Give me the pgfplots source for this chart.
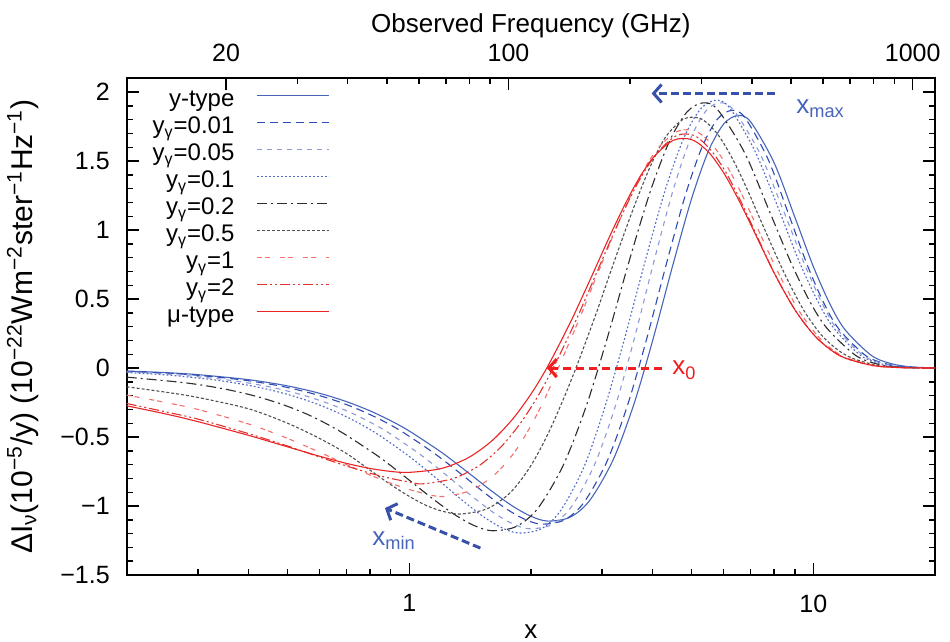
\documentclass[border=0pt]{standalone}
\usepackage{fontspec}
\setmainfont{Liberation Sans}
\usepackage{pgfplots}
\pgfplotsset{compat=1.18}
\usetikzlibrary{arrows.meta}
\definecolor{cY}{RGB}{70,100,185}
\definecolor{cA}{RGB}{45,75,180}
\definecolor{cB}{RGB}{140,155,215}
\definecolor{cC}{RGB}{80,105,200}
\definecolor{cD}{RGB}{45,45,45}
\definecolor{cE}{RGB}{80,80,80}
\definecolor{cF}{RGB}{245,110,110}
\definecolor{cG}{RGB}{225,50,50}
\definecolor{cM}{RGB}{235,35,35}
\definecolor{arrB}{RGB}{55,80,170}
\definecolor{txtB}{RGB}{70,100,185}
\definecolor{arrR}{RGB}{240,30,30}
\begin{document}
\begin{tikzpicture}
\begin{axis}[
  scale only axis, width=404.15pt, height=248.35pt,
  xmode=log, xmin=11.356, xmax=1135.6, ymin=0, ymax=1,
  axis x line*=top, axis y line=none,
  xtick={20,100,1000}, xticklabels={20,100,1000},
  minor xtick={30,40,50,60,70,80,90,200,300,400,500,600,700,800,900},
  xtick align=inside, major tick length=6pt, minor tick length=3pt,
  every tick/.style={black, line width=0.7pt},
  axis line style={line width=0.9pt},
  xticklabel style={inner sep=0pt, anchor=south, yshift=8.2pt, font=\fontsize{12.5}{14}\selectfont},
  xlabel={Observed Frequency (GHz)},
  xlabel style={at={(axis description cs:0.5,1.1067)}, anchor=center, font=\fontsize{13}{15}\selectfont},
]
\end{axis}
\begin{axis}[
  scale only axis, width=404.15pt, height=248.35pt,
  xmode=log, xmin=0.2, xmax=20, ymin=-1.5, ymax=2.1,
  xtick={1,10}, xticklabels={1,10},
  minor xtick={0.3,0.4,0.5,0.6,0.7,0.8,0.9,2,3,4,5,6,7,8,9},
  xtick pos=bottom,
  ytick={-1.5,-1,-0.5,0,0.5,1,1.5,2},
  yticklabels={−1.5,−1,−0.5,0,0.5,1,1.5,2},
  minor y tick num=4,
  ytick pos=both,
  tick align=inside,
  major tick length=6pt, minor tick length=3pt,
  every tick/.style={black, line width=0.7pt},
  axis line style={line width=0.9pt},
  /pgf/number format/assume math mode=true,
  tick label style={font=\fontsize{12.5}{14}\selectfont},
  xticklabel style={inner sep=0pt, anchor=north, yshift=-9.65pt},
  yticklabel style={inner sep=0pt, anchor=east, xshift=-8.3pt},
  xlabel={x},
  xlabel style={at={(axis description cs:0.5,-0.1148)}, anchor=center, font=\fontsize{13}{15}\selectfont},
  ylabel={ΔI\textsubscript{ν}(10\textsuperscript{−5}/y) (10\textsuperscript{−22}Wm\textsuperscript{−2}ster\textsuperscript{−1}Hz\textsuperscript{−1})},
  ylabel style={at={(axis description cs:-0.1287,0.5)}, anchor=center, font=\fontsize{15}{17}\selectfont},
  legend style={at={(axis description cs:0.2515,0.9789)}, anchor=north east, draw=none, fill=none,
    inner sep=0pt, outer sep=0pt, row sep=0pt, font=\fontsize{12}{14}\selectfont,
    nodes={inner sep=0pt, text height=9pt, text depth=4.5pt}},
  legend cell align=right, legend plot pos=right,
  legend image code/.code={\path[draw=none,fill=none] (0pt,0pt) rectangle (0.1pt,0.1pt); \draw[#1] (11.5pt,3.5pt) -- (47.5pt,3.5pt);},
  every axis plot/.append style={line width=0.55pt, smooth, tension=0.5},
]
% y-type
\addplot[cY] coordinates {(0.2,-0.0215)(0.25,-0.0334)(0.3,-0.0479)(0.4,-0.0841)(0.5,-0.1294)(0.6,-0.1830)(0.7,-0.2437)(0.8,-0.3103)(0.9,-0.3817)(1,-0.4562)(1.2,-0.6095)(1.4,-0.7584)(1.6,-0.8917)(1.8,-0.9996)(2,-1.0740)(2.2,-1.1091)(2.5,-1.0814)(2.8,-0.9577)(3.2,-0.6620)(3.6,-0.2589)(4,0.1960)(4.5,0.7558)(5,1.2302)(5.5,1.5724)(6,1.7687)(6.5,1.8305)(7,1.7836)(8,1.4864)(9,1.0934)(10,0.7354)(11,0.4620)(12,0.2751)(14,0.0862)(16,0.0239)(18,0.0060)(20,0.0014)};
\addlegendentry{y-type}
% y_gamma = 0.01
\addplot[cA, dash pattern=on 4pt off 2.5pt] coordinates {(0.2,-0.024)(0.241,-0.0341)(0.290,-0.0489)(0.386,-0.0858)(0.483,-0.1320)(0.579,-0.1867)(0.676,-0.2486)(0.772,-0.3165)(0.869,-0.3893)(0.965,-0.4653)(1.158,-0.6217)(1.351,-0.7736)(1.544,-0.9095)(1.737,-1.0196)(1.930,-1.0955)(2.123,-1.1313)(2.413,-1.1030)(2.702,-0.9769)(3.088,-0.6752)(3.474,-0.2641)(3.860,0.1999)(4.343,0.7709)(4.825,1.2548)(5.308,1.6038)(5.790,1.8041)(6.273,1.8671)(6.755,1.8193)(7.720,1.5161)(8.685,1.1153)(9.650,0.7501)(10.615,0.4712)(11.58,0.2806)(13.51,0.0879)(15.44,0.0244)(17.37,0.0061)(19.3,0.0014)(20,0.0010)};
\addlegendentry{y\textsubscript{γ}=0.01}
% y_gamma = 0.05
\addplot[cB, dash pattern=on 2.5pt off 2.5pt] coordinates {(0.2,-0.029)(0.225,-0.0351)(0.27,-0.0503)(0.36,-0.0883)(0.45,-0.1359)(0.54,-0.1922)(0.63,-0.2559)(0.72,-0.3258)(0.81,-0.4008)(0.90,-0.4790)(1.08,-0.6400)(1.26,-0.7963)(1.44,-0.9363)(1.62,-1.0496)(1.80,-1.1277)(1.98,-1.1646)(2.25,-1.1355)(2.52,-1.0056)(2.88,-0.6951)(3.24,-0.2718)(3.60,0.2058)(4.05,0.7936)(4.50,1.2917)(4.95,1.6510)(5.40,1.8571)(5.85,1.9220)(6.335,1.8728)(7.36,1.5607)(8.415,1.1481)(9.45,0.7722)(10.45,0.4851)(11.4,0.2889)(13.3,0.0905)(15.2,0.0251)(17.1,0.0063)(19.0,0.0015)(20,0.0010)};
\addlegendentry{y\textsubscript{γ}=0.05}
% y_gamma = 0.1
\addplot[cC, dash pattern=on 0.9pt off 1.1pt] coordinates {(0.2,-0.033)(0.2544,-0.0516)(0.3392,-0.0907)(0.424,-0.1395)(0.5088,-0.1973)(0.5936,-0.2627)(0.6784,-0.3345)(0.7632,-0.4115)(0.848,-0.4918)(1.0176,-0.6570)(1.1872,-0.8176)(1.3568,-0.9613)(1.5264,-1.0776)(1.696,-1.1578)(1.8656,-1.1956)(2.12,-1.1657)(2.3744,-1.0295)(2.7136,-0.7097)(3.0528,-0.2770)(3.408,0.2093)(3.861,0.8057)(4.32,1.3089)(4.785,1.6699)(5.25,1.8748)(5.7135,1.9403)(6.188,1.8906)(7.16,1.5756)(8.19,1.1590)(9.2,0.7795)(10.23,0.4897)(11.22,0.2916)(13.09,0.0914)(14.96,0.0253)(16.83,0.0064)(18.7,0.0015)(20,0.0008)};
\addlegendentry{y\textsubscript{γ}=0.1}
% y_gamma = 0.2
\addplot[cD, dash pattern=on 5pt off 2pt on 1pt off 2pt] coordinates {(0.2,-0.066)(0.28,-0.1074)(0.35,-0.1526)(0.42,-0.2065)(0.49,-0.2681)(0.56,-0.3358)(0.63,-0.4102)(0.70,-0.4879)(0.846,-0.6479)(0.994,-0.8062)(1.144,-0.9479)(1.296,-1.0626)(1.448,-1.1417)(1.602,-1.1790)(1.8375,-1.1495)(2.080,-1.0180)(2.406,-0.7037)(2.743,-0.2744)(3.084,0.2072)(3.519,0.7966)(3.965,1.2942)(4.417,1.6510)(4.872,1.8571)(5.33,1.9220)(5.796,1.8728)(6.76,1.5607)(7.758,1.1481)(8.78,0.7722)(9.79,0.4851)(10.8,0.2889)(12.74,0.0905)(14.56,0.0251)(16.38,0.0063)(18.2,0.0015)(20,0.0008)};
\addlegendentry{y\textsubscript{γ}=0.2}
% y_gamma = 0.5
\addplot[cE, dash pattern=on 1.5pt off 1pt] coordinates {(0.2,-0.136)(0.25,-0.175)(0.3,-0.213)(0.4,-0.295)(0.5,-0.400)(0.6,-0.510)(0.7,-0.620)(0.8,-0.740)(0.9,-0.845)(1.0,-0.930)(1.1,-0.995)(1.2,-1.035)(1.335,-1.0585)(1.56,-1.0195)(1.778,-0.9035)(1.984,-0.7243)(2.187,-0.4990)(2.39,-0.2469)(2.596,0.0130)(2.90,0.3941)(3.192,0.7454)(3.584,1.1535)(3.96,1.4685)(4.32,1.6789)(4.7925,1.8071)(5.29,1.8046)(5.808,1.6913)(6.336,1.5069)(6.864,1.2934)(7.392,1.0766)(8.448,0.6961)(9.45,0.4229)(10.45,0.2423)(11.47,0.1339)(12.48,0.0712)(14.42,0.0184)(16.48,0.0044)(18.5,0.0010)(20,0.0003)};
\addlegendentry{y\textsubscript{γ}=0.5}
% y_gamma = 1
\addplot[cF, dash pattern=on 2.5pt off 1.5pt on 2.5pt off 5pt] coordinates {(0.2,-0.196)(0.25,-0.250)(0.3,-0.300)(0.4,-0.405)(0.5,-0.510)(0.6,-0.610)(0.7,-0.700)(0.8,-0.775)(0.9,-0.835)(1.0,-0.880)(1.1,-0.912)(1.21,-0.9315)(1.416,-0.8884)(1.617,-0.7800)(1.808,-0.6239)(1.989,-0.4320)(2.17,-0.2165)(2.347,0.0115)(2.638,0.3583)(2.932,0.6913)(3.328,1.0826)(3.726,1.3872)(4.124,1.5923)(4.622,1.7163)(5.125,1.7152)(5.627,1.6177)(6.132,1.4573)(6.637,1.2651)(7.14,1.0652)(8.152,0.7030)(9.153,0.4292)(10.15,0.2471)(11.12,0.1359)(12.12,0.0719)(14.14,0.0186)(16.16,0.0044)(18.18,0.0010)(20,0.0002)};
\addlegendentry{y\textsubscript{γ}=1}
% y_gamma = 2
\addplot[cG, dash pattern=on 5pt off 1.5pt on 1pt off 1.5pt on 1pt off 1.5pt] coordinates {(0.2,-0.257)(0.25,-0.318)(0.3,-0.370)(0.4,-0.475)(0.5,-0.565)(0.6,-0.645)(0.7,-0.710)(0.8,-0.762)(0.9,-0.800)(1.0,-0.826)(1.08,-0.8393)(1.284,-0.8010)(1.487,-0.7085)(1.688,-0.5710)(1.886,-0.3985)(2.084,-0.2013)(2.281,0.0108)(2.58,0.3387)(2.878,0.6588)(3.277,1.0401)(3.676,1.3400)(4.076,1.5467)(4.577,1.6833)(5.075,1.6854)(5.566,1.5817)(6.054,1.4262)(6.539,1.2392)(7.028,1.0444)(8,0.6892)(9,0.4229)(10,0.2447)(11,0.1352)(12,0.0719)(14,0.0186)(16,0.0044)(18,0.0010)(20,0.0002)};
\addlegendentry{y\textsubscript{γ}=2}
% mu-type
\addplot[cM] coordinates {(0.2,-0.2738)(0.25,-0.3330)(0.3,-0.3884)(0.4,-0.4876)(0.5,-0.5712)(0.6,-0.6390)(0.7,-0.6912)(0.8,-0.7278)(0.9,-0.7493)(1,-0.7561)(1.2,-0.7282)(1.4,-0.6500)(1.6,-0.5287)(1.8,-0.3724)(2,-0.1899)(2.2,0.0103)(2.5,0.3257)(2.8,0.6371)(3.2,1.0118)(3.6,1.3112)(4,1.5194)(4.5,1.6503)(5,1.6556)(5.5,1.5660)(6,1.4149)(6.5,1.2318)(7,1.0402)(8,0.6892)(9,0.4229)(10,0.2447)(11,0.1352)(12,0.0719)(14,0.0186)(16,0.0044)(18,0.0010)(20,0.0002)};
\addlegendentry{μ-type}
% annotations
\draw[arrB, line width=1.5pt, dash pattern=on 4pt off 2pt, -{Straight Barb[length=4pt,width=9pt]}] (axis cs:8.04,1.99) -- (axis cs:3.98,1.99);
\node[anchor=base west, inner sep=0pt, text=txtB, font=\fontsize{13}{15}\selectfont] at (axis cs:9.06,1.844) {x\textsubscript{max}};
\draw[arrR, line width=1.5pt, dash pattern=on 4pt off 2.5pt, -{Straight Barb[length=4pt,width=9pt]}] (axis cs:4.22,0) -- (axis cs:2.19,0);
\node[anchor=base west, inner sep=0pt, text=arrR, font=\fontsize{13}{15}\selectfont] at (axis cs:4.47,-0.05) {x\textsubscript{0}};
\draw[arrB, line width=1.5pt, dash pattern=on 4pt off 2pt, -{Straight Barb[length=4pt,width=9pt]}] (axis cs:1.50,-1.305) -- (axis cs:0.871,-1.015);
\node[anchor=base west, inner sep=0pt, text=txtB, font=\fontsize{13}{15}\selectfont] at (axis cs:0.809,-1.283) {x\textsubscript{min}};
\end{axis}
\pgfresetboundingbox
\path (-63.35pt,-33.5pt) rectangle (411.65pt,287.5pt);
\end{tikzpicture}
\end{document}
